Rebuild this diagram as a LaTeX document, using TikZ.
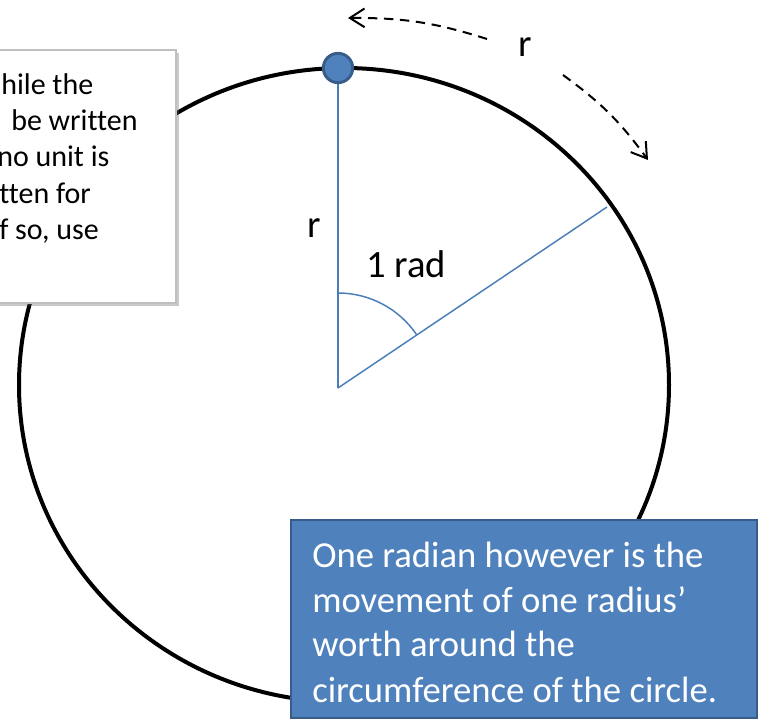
\documentclass[tikz,border=0pt]{standalone}
\usepackage{fontspec}
\setmainfont{Carlito}[Ligatures=NoCommon]
\usetikzlibrary{arrows.meta,shadows}
\definecolor{accent}{HTML}{4F81BD}
\definecolor{accentdark}{HTML}{385D8A}
\definecolor{radline}{HTML}{4A7EBB}
\begin{document}
\begin{tikzpicture}[x=0.75pt,y=0.75pt,
  lbl/.style={font=\fontsize{29}{35}\selectfont, inner sep=0pt, anchor=base},
  notetext/.style={font=\fontsize{22.5}{27}\selectfont, inner sep=0pt, anchor=base west},
  bluetext/.style={font=\fontsize{27.5}{33}\selectfont, text=white, inner sep=0pt, anchor=base west},
  radius line/.style={draw=radline, line width=1.1pt},
  arcarrow/.style={draw=black, line width=1.5pt, dash pattern=on 7pt off 5pt, -{Straight Barb[length=11pt,width=14pt,line width=1.5pt]}},
  notebox/.style={draw=black!25, fill=white, line width=0.8pt, inner sep=0pt,
    drop shadow={shadow xshift=2.5pt, shadow yshift=-2.5pt, opacity=0.35, fill=black!60}},
  bluebox/.style={draw=accentdark, fill=accent, line width=1.6pt, inner sep=0pt}]
\useasboundingbox (0,0) rectangle (761,722);
\fill[white] (0,0) rectangle (761,722);

% big circle
\draw[line width=3pt] (344,337) ellipse [x radius=243.75pt, y radius=237.75pt];

% radii
\coordinate (O) at (338,334);
\coordinate (T) at (338,654);
\coordinate (P) at (607,515);
\draw[radius line] (O) -- (T);
\draw[radius line] (O) -- (P);
\draw[radius line] (O) ++(90:71.25pt) arc[start angle=90, end angle=33.9, radius=71.25pt];

% point on circle
\node[circle, draw=accentdark, fill=accent, line width=2.2pt, minimum size=22pt, inner sep=0pt] (dot) at (T) {};

% arc arrows
\coordinate (a1s) at (487,683);
\coordinate (a1e) at (348,704);
\coordinate (a2s) at (563,647);
\coordinate (a2e) at (648,562);
\draw[arcarrow] (a1s) to[bend right=9] (a1e);
\draw[arcarrow] (a2s) to[bend left=9] (a2e);

% labels
\node[lbl] (rtop) at (525,665) {r};
\node[lbl] (rleft) at (314,484) {r};
\node[lbl] (rad) at (406,444) {1 rad};

% note box (left, partly cut)
\node[notebox, minimum width=139.5pt, minimum height=189.75pt] (note) at (83,545.5) {};
\node[notetext] (n1) at (1,627) {hile the};
\node[notetext] (n2) at (11,591) {be written};
\node[notetext] (n3) at (-3,555) {no unit is};
\node[notetext] (n4) at (-1,518) {tten for};
\node[notetext] (n5) at (-1,482) {f so, use};

% blue box
\node[bluebox, minimum width=350pt, minimum height=149pt] (blue) at (524,103) {};
\node[bluetext] (b1) at (312,154) {One radian however is the};
\node[bluetext] (b2) at (312,109) {movement of one radius’};
\node[bluetext] (b3) at (312,65) {worth around the};
\node[bluetext] (b4) at (312,20) {circumference of the circle.};
\end{tikzpicture}
\end{document}
